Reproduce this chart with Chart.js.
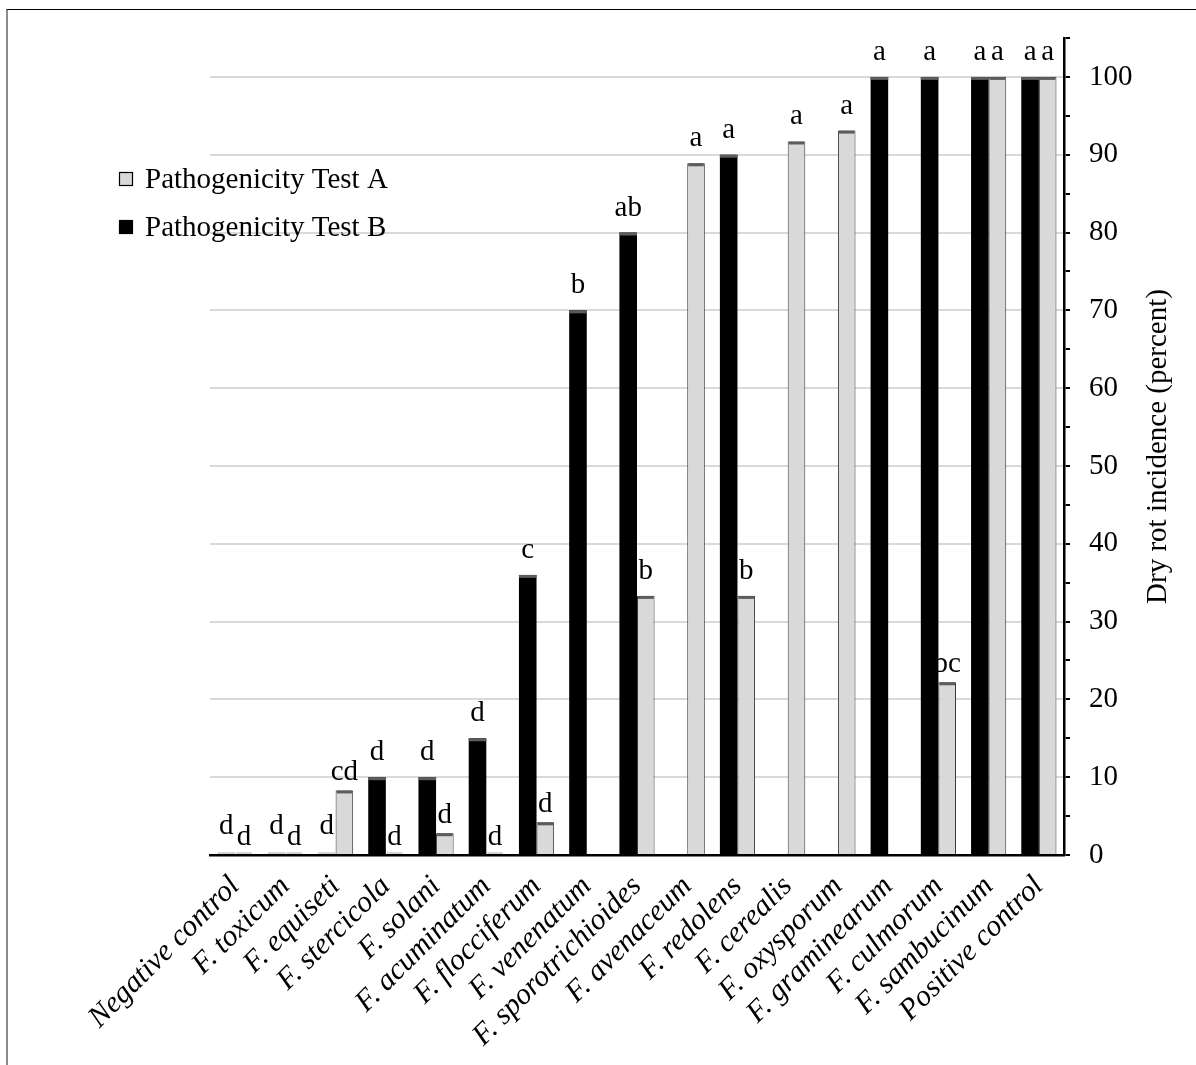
<!DOCTYPE html>
<html>
<head>
<meta charset="utf-8">
<title>Dry rot incidence</title>
<script src="https://cdn.jsdelivr.net/npm/chart.js@4.4.1/dist/chart.umd.min.js"></script>
<style>
  html, body { margin: 0; padding: 0; background: #fff; }
  #wrap { position: relative; width: 1196px; height: 1065px; overflow: hidden; }
  #c { position: absolute; left: 0; top: 0; }
  #frame { position: absolute; left: 6px; top: 9px; right: -2px; bottom: -2px;
           border-top: 1px solid #000; border-left: 2px solid #8c8c8c; pointer-events: none; }
</style>
</head>
<body>
<div id="wrap">
  <canvas id="c" width="1196" height="1065"></canvas>
  <div id="frame"></div>
</div>
<script>
// Isolates and controls, in plotting order
const categories = [
  'Negative control', 'F. toxicum', 'F. equiseti', 'F. stercicola', 'F. solani',
  'F. acuminatum', 'F. flocciferum', 'F. venenatum', 'F. sporotrichioides',
  'F. avenaceum', 'F. redolens', 'F. cerealis', 'F. oxysporum',
  'F. graminearum', 'F. culmorum', 'F. sambucinum', 'Positive control'
];

// Dry rot incidence (%) per test; null = isolate not included in that test
const testA = [0, 0, 8.3, 0, 2.8, 0, 4.2, null, 33.3, 88.9, 33.3, 91.7, 93.1, null, 22.2, 100, 100];
const testB = [0, 0, 0, 10, 10, 15, 36, 70, 80, null, 90, null, null, 100, 100, 100, 100];

// Mean separation letters shown above each bar
const lettersA = ['d', 'd', 'cd', 'd', 'd', 'd', 'd', '', 'b', 'a', 'b', 'a', 'a', '', 'bc', 'a', 'a'];
const lettersB = ['d', 'd', 'd', 'd', 'd', 'd', 'c', 'b', 'ab', '', 'a', '', '', 'a', 'a', 'a', 'a'];

const seriesNames = ['Pathogenicity Test A', 'Pathogenicity Test B'];
const yTitle = 'Dry rot incidence (percent)';
const yMin = 0, yMax = 105, yStep = 5, yLabelStep = 10;

const SERIF = '"Liberation Serif", "Times New Roman", serif';
const FS = 29;

// Letters above bars
const letterPlugin = {
  id: 'letters',
  afterDatasetsDraw(chart) {
    const ctx = chart.ctx;
    ctx.save();
    ctx.font = FS + 'px ' + SERIF;
    ctx.fillStyle = '#000';
    ctx.textAlign = 'center';
    ctx.textBaseline = 'alphabetic';
    chart.data.datasets.forEach((ds, i) => {
      const meta = chart.getDatasetMeta(i);
      meta.data.forEach((bar, j) => {
        const t = ds.letters[j];
        const v = ds.data[j];
        if (!t || v === null) return;
        let gap = 17;
        if (ds.lowLetterGap && v < 25) gap = 10;
        if (!ds.lowLetterGap && v === 0) gap = 21;
        ctx.fillText(t, bar.x, bar.y - gap);
      });
    });
    ctx.restore();
  }
};

// Shaded cap on the top of each bar
const capPlugin = {
  id: 'caps',
  afterDatasetsDraw(chart) {
    const ctx = chart.ctx;
    ctx.save();
    chart.data.datasets.forEach((ds, i) => {
      const meta = chart.getDatasetMeta(i);
      meta.data.forEach((bar, j) => {
        const v = ds.data[j];
        if (v === null) return;
        const inset = ds.borderWidth ? 1 : 0;
        const x0 = bar.x - bar.width / 2 + inset;
        const w = bar.width - inset * 2;
        if (v === 0) {
          ctx.fillStyle = '#d4d4d4';
          ctx.fillRect(x0, bar.y - 3, w, 2);
        } else {
          ctx.fillStyle = '#5c5c5c';
          ctx.fillRect(x0, bar.y, w, 3);
        }
      });
    });
    ctx.restore();
  }
};

// Legend placed over the upper-left part of the plot
const legendPlugin = {
  id: 'boxLegend',
  afterDraw(chart) {
    const ctx = chart.ctx;
    const order = [1, 0];   // Test A first, then Test B
    ctx.save();
    ctx.font = FS + 'px ' + SERIF;
    ctx.textBaseline = 'alphabetic';
    ctx.textAlign = 'left';
    order.forEach((di, k) => {
      const ds = chart.data.datasets[di];
      const base = 188 + k * 48;
      const top = base - 16;
      ctx.fillStyle = ds.backgroundColor;
      ctx.fillRect(119, top, 14, 14);
      ctx.strokeStyle = '#000';
      ctx.lineWidth = 1.2;
      ctx.strokeRect(119.5, top + 0.5, 13, 13);
      ctx.fillStyle = '#000';
      ctx.fillText(ds.label, 145, base);
    });
    ctx.restore();
  }
};

// Right-hand axis title, reading bottom to top
const yTitlePlugin = {
  id: 'yTitle',
  afterDraw(chart) {
    const ctx = chart.ctx;
    const a = chart.chartArea;
    ctx.save();
    ctx.translate(1158, (a.top + a.bottom) / 2);
    ctx.rotate(-Math.PI / 2);
    ctx.font = FS + 'px ' + SERIF;
    ctx.fillStyle = '#000';
    ctx.textAlign = 'center';
    ctx.textBaseline = 'middle';
    ctx.fillText(yTitle, 0, 0);
    ctx.restore();
  }
};

new Chart(document.getElementById('c'), {
  type: 'bar',
  data: {
    labels: categories,
    datasets: [
      {
        label: seriesNames[1],
        data: testB,
        letters: lettersB,
        backgroundColor: '#000000',
        borderWidth: 0
      },
      {
        label: seriesNames[0],
        data: testA,
        letters: lettersA,
        lowLetterGap: true,
        backgroundColor: '#d9d9d9',
        borderColor: '#3a3a3a',
        borderWidth: 1
      }
    ]
  },
  options: {
    responsive: false,
    animation: false,
    devicePixelRatio: 1,
    layout: { padding: { left: 210, top: 38, right: 0, bottom: 0 } },
    datasets: { bar: { categoryPercentage: 0.7, barPercentage: 1.0, skipNull: false } },
    plugins: { legend: { display: false }, tooltip: { enabled: false } },
    scales: {
      x: {
        grid: { display: false, drawTicks: false },
        border: { display: true, color: '#000', width: 2.5, z: 1 },
        ticks: {
          color: '#000',
          autoSkip: false,
          minRotation: 45,
          maxRotation: 45,
          padding: 14,
          font: { family: SERIF, size: 30, style: 'italic' }
        },
        afterFit(scale) { scale.height = 210; }
      },
      y: {
        position: 'right',
        min: yMin,
        max: yMax,
        grid: {
          color: (c) => (c.tick && c.tick.value > 0 && c.tick.value % yLabelStep === 0 && c.tick.value <= 100) ? '#d9d9d9' : 'rgba(0,0,0,0)',
          lineWidth: 2,
          tickColor: '#000',
          tickWidth: 2,
          tickLength: 6,
          drawTicks: true
        },
        border: { display: true, color: '#000', width: 2.5, z: 1 },
        ticks: {
          stepSize: yStep,
          color: '#000',
          padding: 19,
          font: { family: SERIF, size: FS },
          callback: (v) => (v % yLabelStep === 0 && v <= 100) ? String(v) : ''
        },
        afterFit(scale) { scale.width = 132; }
      }
    }
  },
  plugins: [capPlugin, letterPlugin, legendPlugin, yTitlePlugin]
});
</script>
</body>
</html>
